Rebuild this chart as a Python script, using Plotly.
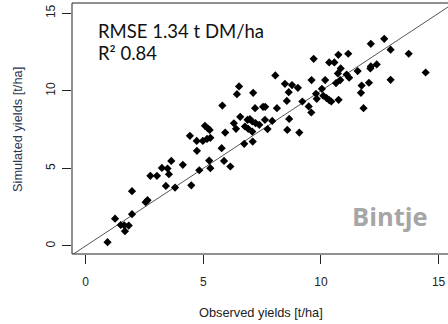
import plotly.graph_objects as go

# Observed yields [t/ha]
observed = [0.93, 1.25, 1.49, 1.64, 1.83, 1.67, 1.97, 1.97, 2.55, 2.63,
            2.75, 3.03, 3.24, 3.48, 3.54, 3.64, 3.41, 3.80, 4.13, 4.49,
            4.73, 4.72, 4.83, 4.98, 4.43, 8.06, 6.52, 6.43, 7.12, 8.47,
            8.77, 8.63, 5.81, 7.20, 7.54, 7.63, 8.13, 8.55, 6.57, 5.07,
            5.20, 5.27, 6.30, 6.39, 6.88, 6.98, 7.08, 7.22, 6.77, 6.91,
            7.38, 7.62, 7.93, 7.73, 8.65, 8.57, 7.08, 5.93, 5.16, 5.30,
            5.78, 6.74, 7.10, 5.25, 5.88, 5.30, 6.15, 9.02, 9.21, 9.48,
            9.08, 12.12, 9.69, 10.74, 11.16, 10.35, 10.57, 10.84, 12.12, 10.72,
            11.09, 11.20, 11.56, 10.82, 10.64, 10.18, 9.60, 10.04, 9.79, 9.82,
            10.10, 10.24, 10.35, 10.44, 10.75, 11.73, 12.04, 11.70, 11.81, 9.59,
            12.69, 12.96, 13.73, 14.45, 12.37, 12.96, 12.10]
# Simulated yields [t/ha]
simulated = [0.24, 1.76, 1.35, 1.33, 1.31, 0.95, 2.05, 3.53, 2.82, 2.95,
             4.52, 4.52, 5.03, 4.99, 4.62, 5.48, 3.87, 3.76, 5.23, 3.91,
             6.13, 6.77, 4.88, 6.77, 7.10, 10.99, 10.28, 9.78, 9.87, 10.45,
             10.37, 9.91, 9.05, 8.88, 8.97, 8.97, 8.88, 9.35, 8.32, 7.74,
             7.57, 7.48, 7.91, 7.55, 8.13, 8.17, 8.02, 7.92, 7.70, 7.55,
             7.81, 8.13, 8.06, 7.53, 8.19, 7.48, 7.37, 7.31, 6.90, 6.97,
             6.30, 6.58, 6.73, 5.50, 5.48, 5.01, 5.12, 10.19, 9.31, 8.99,
             7.31, 13.03, 12.06, 12.32, 12.39, 11.83, 11.83, 11.44, 11.57, 11.12,
             11.05, 10.84, 11.27, 10.69, 10.50, 10.69, 10.69, 10.13, 9.81, 9.48,
             9.68, 9.53, 9.40, 9.31, 9.42, 10.34, 10.52, 9.87, 8.88, 8.60,
             13.35, 12.65, 12.39, 11.18, 11.70, 10.71, 11.44]

tick_vals = [0, 5, 10, 15]
tick_text = ["0", "5", "10", "15"]
one_to_one = [-1, 17]

x_range = [-0.58, 15.40]
y_range = [-0.52, 15.66]

fig = go.Figure()
fig.add_trace(go.Scatter(x=one_to_one, y=one_to_one, mode="lines",
                         line=dict(color="#555555", width=1), hoverinfo="skip",
                         showlegend=False))
fig.add_trace(go.Scatter(x=observed, y=simulated, mode="markers",
                         marker=dict(symbol="diamond", size=6.3, color="black",
                                     line=dict(width=0)),
                         showlegend=False))

axis_font = dict(family="Liberation Sans, Arial", size=12, color="#222222")
fig.update_xaxes(range=x_range, tickvals=tick_vals, ticktext=tick_text,
                 ticks="outside", ticklen=9, tickcolor="#222222", tickwidth=1,
                 showgrid=False, zeroline=False, showline=False,
                 ticklabelstandoff=8, tickfont=axis_font)
fig.update_yaxes(range=y_range, tickvals=tick_vals, ticktext=tick_text,
                 ticks="outside", ticklen=9, tickcolor="#222222", tickwidth=1,
                 showgrid=False, zeroline=False, showline=False,
                 ticklabelstandoff=2, tickangle=-90, tickfont=axis_font)

# box (left, top, bottom)
for x0, y0, x1, y1 in [(0, 0, 0, 1), (0, 1, 1, 1), (0, 0, 1, 0)]:
    fig.add_shape(type="line", xref="paper", yref="paper", x0=x0, y0=y0,
                  x1=x1, y1=y1, line=dict(color="#222222", width=1))

fig.add_annotation(xref="paper", yref="paper", x=0.064, y=0.888,
                   xanchor="left", yanchor="middle", showarrow=False,
                   text="RMSE 1.34 t DM/ha",
                   font=dict(family="Lato", size=18.5, color="#111111"))
fig.add_annotation(xref="paper", yref="paper", x=0.064, y=0.800,
                   xanchor="left", yanchor="middle", showarrow=False,
                   text="R² 0.84",
                   font=dict(family="Lato", size=18.5, color="#111111"))
fig.add_annotation(xref="paper", yref="paper", x=0.846, y=0.151,
                   xanchor="center", yanchor="middle", showarrow=False,
                   text="<b>Bintje</b>",
                   font=dict(family="Open Sans", size=25.5, color="#a6a6a6"))
fig.add_annotation(xref="paper", yref="paper", x=(261 - 72) / 376,
                   y=-(312 - 254) / 251, xanchor="center", yanchor="middle",
                   showarrow=False, text="Observed yields [t/ha]",
                   font=dict(family="Liberation Sans, Arial", size=12.8,
                             color="#222222"))
fig.add_annotation(xref="paper", yref="paper", x=-(72 - 17) / 376,
                   y=1 - (130 - 3) / 251, xanchor="center", yanchor="middle",
                   textangle=-90, showarrow=False,
                   text="Simulated yields [t/ha]",
                   font=dict(family="Liberation Sans, Arial", size=12.8,
                             color="#2a3550"))

fig.update_layout(width=448, height=324,
                  margin=dict(l=72, r=0, t=3, b=70),
                  paper_bgcolor="white", plot_bgcolor="white")
fig.write_html("out.html")
